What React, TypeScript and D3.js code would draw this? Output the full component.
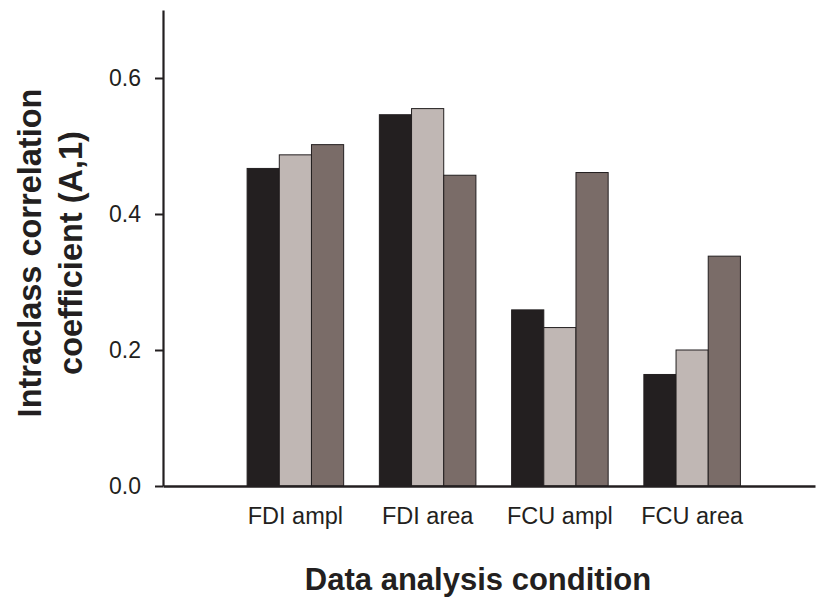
import React, { useEffect, useRef } from 'react'
import * as d3 from 'd3'

const groups = ['FDI ampl', 'FDI area', 'FCU ampl', 'FCU area']
const series = ['s1', 's2', 's3']
const s1Values = [0.467, 0.546, 0.259, 0.164]
const s2Values = [0.487, 0.555, 0.233, 0.2]
const s3Values = [0.502, 0.457, 0.461, 0.338]
const yTicks = [0, 0.2, 0.4, 0.6]
const colors = ['#231f20', '#c0b7b4', '#7a6c68']

const FONT = '"Liberation Sans", Arial, Helvetica, sans-serif'
const INK = '#231f20'

const App = () => {
  const ref = useRef(null)

  useEffect(() => {
    const svg = d3.select(ref.current)
    svg.selectAll('*').remove()

    const left = 163
    const right = 815
    const bottom = 486
    const top = 10

    const yScale = d3.scaleLinear().domain([0, 0.7]).range([bottom, top])
    const xScale = d3
      .scaleBand()
      .domain(groups)
      .range([left, right])
      .paddingInner(0.27)
      .paddingOuter(0.6)
      .align(0.53)
    const inner = d3.scaleBand().domain(series).range([0, xScale.bandwidth()])

    const values = [s1Values, s2Values, s3Values]
    const rows = groups.map((g, i) => ({
      group: g,
      vals: series.map((s, j) => ({ key: s, idx: j, v: values[j][i] })),
    }))

    // bars
    const body = svg.append('g')
    const gs = body
      .selectAll('g.grp')
      .data(rows)
      .enter()
      .append('g')
      .attr('class', 'grp')
      .attr('transform', (d) => `translate(${xScale(d.group)},0)`)
    gs.selectAll('rect')
      .data((d) => d.vals)
      .enter()
      .append('rect')
      .attr('x', (d) => inner(d.key))
      .attr('y', (d) => yScale(d.v))
      .attr('width', inner.bandwidth())
      .attr('height', (d) => bottom - yScale(d.v))
      .attr('fill', (d) => colors[d.idx])
      .attr('stroke', INK)
      .attr('stroke-width', 1)

    // y axis
    const yAxis = d3
      .axisLeft(yScale)
      .tickValues(yTicks)
      .tickFormat(d3.format('.1f'))
      .tickSize(8)
      .tickSizeOuter(0)
      .tickPadding(14)
    const yg = svg.append('g').attr('transform', `translate(${left},0)`).call(yAxis)
    yg.select('.domain').attr('stroke', INK).attr('stroke-width', 2.2)
    yg.selectAll('.tick line').attr('stroke', INK).attr('stroke-width', 2)
    yg.selectAll('.tick text')
      .attr('font-family', FONT)
      .attr('font-size', 23)
      .attr('fill', INK)

    // x axis
    const xAxis = d3.axisBottom(xScale).tickSize(0).tickSizeOuter(0).tickPadding(21)
    const xg = svg.append('g').attr('transform', `translate(0,${bottom})`).call(xAxis)
    xg.select('.domain').attr('stroke', INK).attr('stroke-width', 2.4)
    xg.selectAll('.tick text')
      .attr('font-family', FONT)
      .attr('font-size', 23.5)
      .attr('fill', INK)

    // axis titles
    svg
      .append('text')
      .attr('x', 478)
      .attr('y', 590)
      .attr('text-anchor', 'middle')
      .attr('font-family', FONT)
      .attr('font-weight', 'bold')
      .attr('font-size', 31)
      .attr('fill', INK)
      .text('Data analysis condition')

    const yTitle = ['Intraclass correlation', 'coefficient (A,1)']
    svg
      .selectAll('text.ytitle')
      .data(yTitle)
      .enter()
      .append('text')
      .attr('class', 'ytitle')
      .attr('transform', (d, i) => `translate(${i === 0 ? 41 : 82},253) rotate(-90)`)
      .attr('text-anchor', 'middle')
      .attr('font-family', FONT)
      .attr('font-weight', 'bold')
      .attr('font-size', 32.5)
      .attr('fill', INK)
      .text((d) => d)
  }, [])

  return (
    <svg
      ref={ref}
      width={816}
      height={597}
      style={{ position: 'absolute', left: 0, top: 0, background: '#fff' }}
    ></svg>
  )
}

export default App
